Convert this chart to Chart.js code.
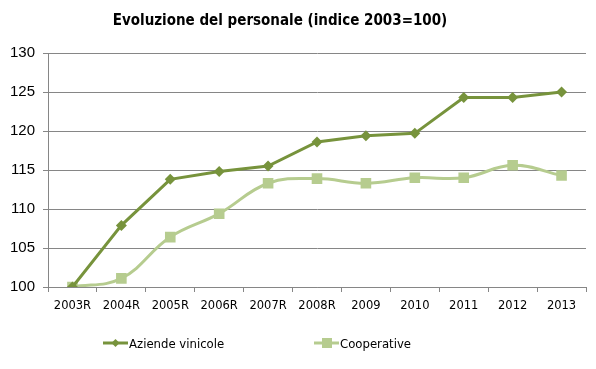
<!DOCTYPE html>
<html>
<head>
<meta charset="utf-8">
<script src="https://cdn.jsdelivr.net/npm/chart.js@4"></script>
<style>
  body { margin: 0; background: #fff; }
  #wrap { position: relative; width: 596px; height: 369px; }
  #title {
    position: absolute; left: 0; width: 560px; top: 11px; text-align: center;
    font: bold 15px 'Liberation Sans Narrow', 'DejaVu Sans Condensed', sans-serif; color: #000;
  }
  .leg {
    position: absolute; top: 334px; height: 18px; display: flex; align-items: center;
    font: 13px 'Liberation Sans Narrow', 'DejaVu Sans Condensed', sans-serif; color: #000;
  }
  .leg canvas { margin-right: 1px; }
</style>
</head>
<body>
<div id="wrap">
  <canvas id="progressChart" width="596" height="369"></canvas>
  <div id="title">Evoluzione del personale (indice 2003=100)</div>
  <div class="leg" style="left:103px"><canvas id="leg1" width="25" height="12"></canvas>Aziende vinicole</div>
  <div class="leg" style="left:314px"><canvas id="leg2" width="25" height="12"></canvas>Cooperative</div>
</div>
<script>
const years = ['2003R', '2004R', '2005R', '2006R', '2007R', '2008R', '2009', '2010', '2011', '2012', '2013'];
const aziende = [100, 107.9, 113.8, 114.8, 115.5, 118.6, 119.4, 119.7, 124.3, 124.3, 125.0];
const cooperative = [100, 101.1, 106.4, 109.4, 113.3, 113.9, 113.3, 114.0, 114.0, 115.6, 114.3];
const seriesNames = ['Aziende vinicole', 'Cooperative'];
const yTicks = [100, 105, 110, 115, 120, 125, 130];

const darkGreen = '#77933C';
const lightGreen = '#B6CC8F';

// little legend swatches: line with marker in the middle
function swatch(id, color, square) {
    const c = document.getElementById(id).getContext('2d');
    c.strokeStyle = color;
    c.lineWidth = 3;
    c.beginPath();
    c.moveTo(0, 6);
    c.lineTo(25, 6);
    c.stroke();
    c.fillStyle = color;
    c.beginPath();
    if (square) {
        c.rect(8, 1, 10, 10);
    } else {
        c.moveTo(12.5, 2); c.lineTo(16.5, 6); c.lineTo(12.5, 10); c.lineTo(8.5, 6); c.closePath();
    }
    c.fill();
}
swatch('leg1', darkGreen, false);
swatch('leg2', lightGreen, true);

const ctx = document.getElementById('progressChart').getContext('2d');
const data = {
    labels: years,
    datasets: [{
        label: seriesNames[0],
        data: aziende,
        borderColor: darkGreen,
        backgroundColor: darkGreen,
        borderWidth: 3,
        pointStyle: 'rectRot',
        pointRadius: 5.5,
        pointBorderWidth: 0,
        pointBackgroundColor: darkGreen,
        tension: 0,
    }, {
        label: seriesNames[1],
        data: cooperative,
        borderColor: lightGreen,
        backgroundColor: lightGreen,
        borderWidth: 3,
        pointStyle: 'rect',
        pointRadius: 7.5,
        pointBorderWidth: 0,
        pointBackgroundColor: lightGreen,
        tension: 0.4,
    }]
};

const config = {
    type: 'line',
    data: data,
    options: {
        responsive: false,
        animation: false,
        layout: { padding: { top: 53, right: 10, bottom: 42, left: 0 } },
        plugins: {
            legend: { display: false },
            title: { display: false },
            tooltip: { enabled: false },
        },
        scales: {
            x: {
                offset: true,
                grid: {
                    offset: true,
                    drawOnChartArea: false,
                    color: '#868686',
                    tickLength: 5,
                },
                border: { color: '#868686' },
                ticks: {
                    color: '#000',
                    padding: 7,
                    maxRotation: 0,
                    autoSkip: false,
                    font: { family: 'DejaVu Sans', size: 11.5 },
                },
                afterFit: function (scale) { scale.height = 40; },
            },
            y: {
                min: 100,
                max: 130,
                afterBuildTicks: function (scale) {
                    scale.ticks = yTicks.map(v => ({ value: v }));
                },
                grid: {
                    color: '#868686',
                    tickLength: 5,
                },
                border: { color: '#868686' },
                ticks: {
                    color: '#000',
                    padding: 8,
                    font: { family: 'Liberation Sans', size: 15 },
                },
                afterFit: function (scale) { scale.width = 48; },
            },
        },
    },
};

const progressChart = new Chart(ctx, config);
</script>
</body>
</html>
